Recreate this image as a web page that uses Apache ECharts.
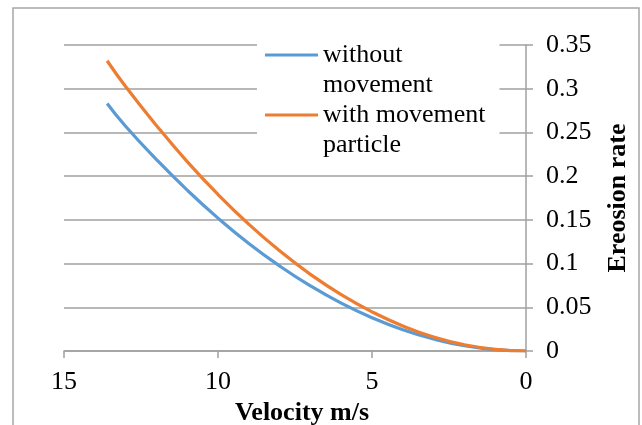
<!DOCTYPE html>
<html>
<head>
<meta charset="utf-8">
<script src="https://cdn.jsdelivr.net/npm/echarts@6/dist/echarts.min.js"></script>
<style>html,body{margin:0;padding:0;background:#fff;}#c{width:642px;height:425px;}</style>
</head>
<body>
<div id="c"></div>
<script>
var velocity = [0, 1, 2, 3, 4, 5, 6, 7, 8, 9, 10, 11, 12, 13, 13.6];
var withoutMovement = [0, 0.0015, 0.006, 0.0137, 0.0243, 0.038, 0.0547, 0.0745, 0.0973, 0.123, 0.152, 0.184, 0.219, 0.257, 0.283];
var withMovement = [0, 0.0018, 0.0072, 0.016, 0.0286, 0.0448, 0.0644, 0.0877, 0.1146, 0.145, 0.179, 0.2166, 0.258, 0.3025, 0.332];
var seriesNames = ['without movement', 'with movement particle'];
var legendLabels = ['without\nmovement', 'with movement\nparticle'];

function pairs(xs, ys) { return xs.map(function (x, i) { return [x, ys[i]]; }); }

var font = 'Liberation Serif, Times New Roman, serif';
var chart = echarts.init(document.getElementById('c'), null, { renderer: 'canvas' });
chart.setOption({
  animation: false,
  backgroundColor: '#fff',
  textStyle: { fontFamily: font },
  graphic: [{
    type: 'rect', shape: { x: 13, y: 8, width: 626, height: 430 },
    style: { fill: 'none', stroke: '#a6a6a6', lineWidth: 1.5 }, silent: true, z: -10
  }],
  grid: { left: 64, right: 116, top: 45, bottom: 74, outerBoundsMode: 'none', containLabel: false },
  legend: {
    left: 257, top: 38, orient: 'vertical',
    backgroundColor: '#fff',
    padding: [2, 14, 8, 8],
    itemGap: 0,
    itemWidth: 53, itemHeight: 60,
    icon: 'path://M0,0L0,0M0,13.5H53V16.5H0ZM0,60L0,60',
    itemStyle: { borderWidth: 0 },
    data: seriesNames,
    formatter: function (n) { return legendLabels[seriesNames.indexOf(n)]; },
    textStyle: { fontFamily: font, fontSize: 26, lineHeight: 30, color: '#000', padding: [0, 0, 0, 0] },
    z: 10
  },
  xAxis: {
    type: 'value', inverse: true, min: 0, max: 15, interval: 5,
    name: 'Velocity m/s', nameLocation: 'middle', nameGap: 43,
    nameTextStyle: { fontFamily: font, fontSize: 26, fontWeight: 'bold', color: '#000', padding: [0, 0, 0, 14] },
    axisLine: { show: true, lineStyle: { color: '#a0a0a0', width: 1.5 } },
    axisTick: { show: true, length: 7, lineStyle: { color: '#a0a0a0', width: 1.5 } },
    axisLabel: { fontFamily: font, fontSize: 26, color: '#000', margin: 18 },
    splitLine: { show: false }
  },
  yAxis: {
    type: 'value', position: 'right', min: 0, max: 0.35, interval: 0.05,
    name: 'Ereosion rate', nameLocation: 'middle', nameGap: 79, nameRotate: 90,
    nameTextStyle: { fontFamily: font, fontSize: 26, fontWeight: 'bold', color: '#000' },
    axisLine: { show: true, lineStyle: { color: '#a0a0a0', width: 1.5 } },
    axisTick: { show: true, length: 7, lineStyle: { color: '#a0a0a0', width: 1.5 } },
    axisLabel: { fontFamily: font, fontSize: 26, color: '#000', margin: 20 },
    splitLine: { show: true, lineStyle: { color: '#a0a0a0', width: 1.5 } }
  },
  series: [
    { name: seriesNames[0], type: 'line', data: pairs(velocity, withoutMovement), smooth: true,
      showSymbol: false, lineStyle: { color: '#5b9bd5', width: 3.2 }, itemStyle: { color: '#5b9bd5' } },
    { name: seriesNames[1], type: 'line', data: pairs(velocity, withMovement), smooth: true,
      showSymbol: false, lineStyle: { color: '#ed7d31', width: 3.2 }, itemStyle: { color: '#ed7d31' } }
  ]
});
</script>
</body>
</html>
